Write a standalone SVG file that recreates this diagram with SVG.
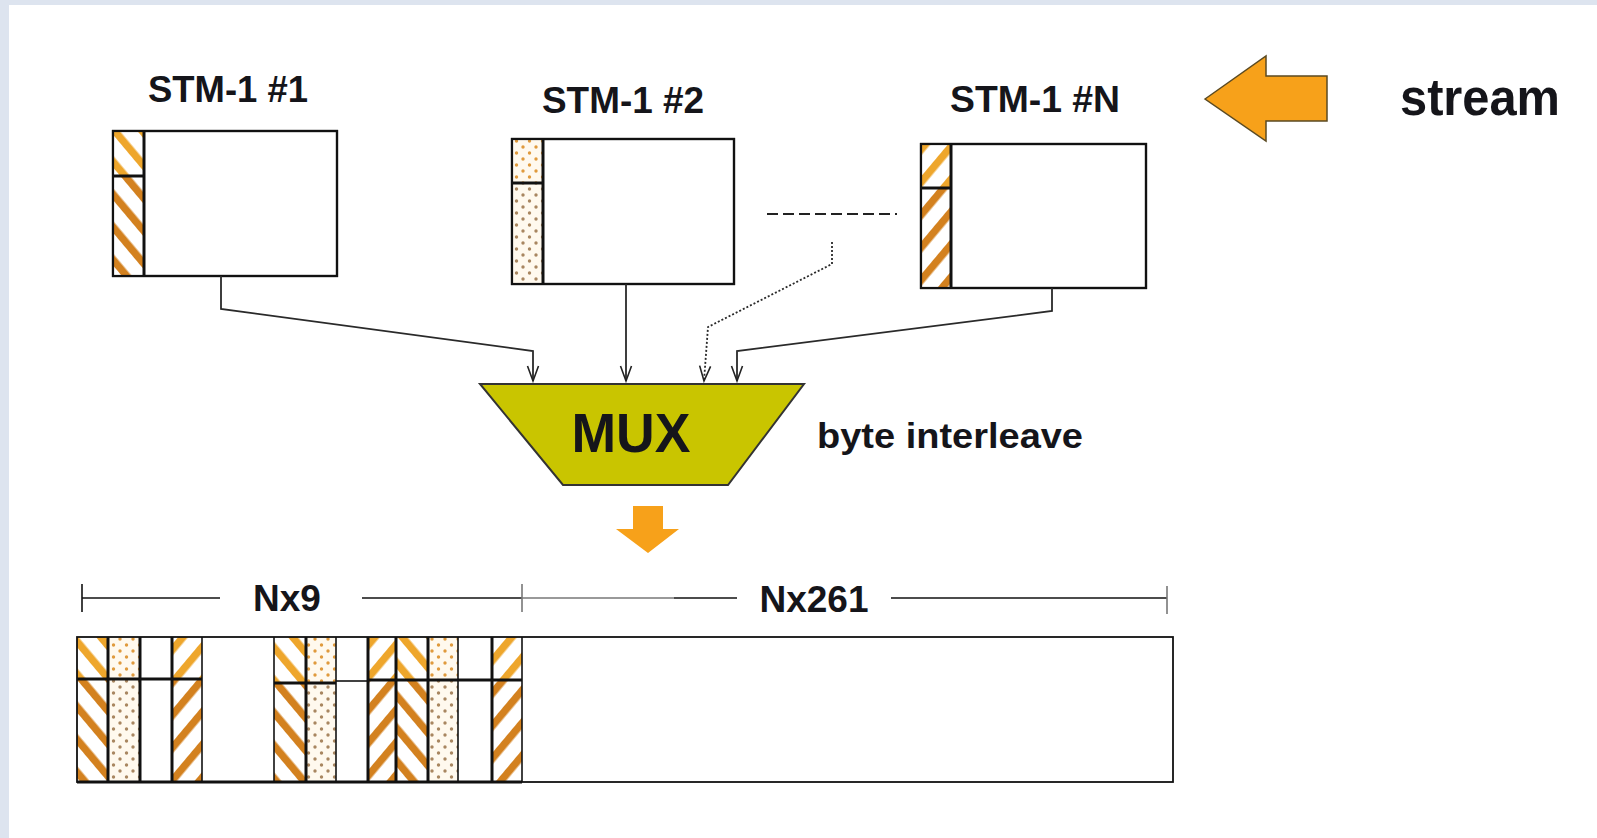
<svg xmlns="http://www.w3.org/2000/svg" width="1597" height="838" viewBox="0 0 1597 838">
  <style>
    .lbl { font-family: "Liberation Sans", Arial, sans-serif; font-weight: bold; fill: #15151a; }
    .box { fill: #fff; stroke: #111; stroke-width: 2.2; }
    .sep { stroke: #111; stroke-width: 3; fill: none; }
    .thin { stroke: #111; stroke-width: 1.6; fill: none; }
    .conn { stroke: #2a2a2a; stroke-width: 1.8; fill: none; marker-end: url(#arr); }
    .dim { stroke: #111; stroke-width: 1.6; fill: none; }
    .dimg { stroke: #777; stroke-width: 1.6; fill: none; }
  </style>
  <defs>
    <marker id="arr" markerUnits="userSpaceOnUse" markerWidth="20" markerHeight="14" refX="16" refY="6" orient="auto" overflow="visible">
      <path d="M1,0.5 L16,6 L1,11.5" fill="none" stroke="#222" stroke-width="1.6"/>
    </marker>
    <pattern id="bsTop" patternUnits="userSpaceOnUse" width="21" height="21" patternTransform="rotate(-40)">
      <rect width="21" height="21" fill="#fff"/><rect width="7.5" height="21" fill="#eea62c"/>
    </pattern>
    <pattern id="bsBot" patternUnits="userSpaceOnUse" width="21" height="21" patternTransform="rotate(-40)">
      <rect width="21" height="21" fill="#fff"/><rect width="7.5" height="21" fill="#d3811f"/>
    </pattern>
    <pattern id="fsTop" patternUnits="userSpaceOnUse" width="21" height="21" patternTransform="rotate(40)">
      <rect width="21" height="21" fill="#fff"/><rect width="7.5" height="21" fill="#eea62c"/>
    </pattern>
    <pattern id="fsBot" patternUnits="userSpaceOnUse" width="21" height="21" patternTransform="rotate(40)">
      <rect width="21" height="21" fill="#fff"/><rect width="7.5" height="21" fill="#d3811f"/>
    </pattern>
    <pattern id="dotTop" patternUnits="userSpaceOnUse" width="13" height="12">
      <rect width="13" height="12" fill="#fff9ee"/>
      <circle cx="3" cy="3" r="1.7" fill="#e09a3c"/><circle cx="9.5" cy="9" r="1.7" fill="#e09a3c"/>
    </pattern>
    <pattern id="dotBot" patternUnits="userSpaceOnUse" width="13" height="12">
      <rect width="13" height="12" fill="#fff9ee"/>
      <circle cx="3" cy="3" r="1.7" fill="#a88660"/><circle cx="9.5" cy="9" r="1.7" fill="#a88660"/>
    </pattern>
  </defs>

  <rect width="1597" height="838" fill="#dde4ef"/>
  <rect x="9" y="5" width="1588" height="833" fill="#fff"/>

  <g id="stm1">
    <text class="lbl" x="228" y="102" font-size="37" text-anchor="middle" textLength="160" lengthAdjust="spacingAndGlyphs">STM-1 #1</text>
    <rect class="box" x="113" y="131" width="224" height="145"/>
    <rect x="113" y="131" width="31" height="45" fill="url(#bsTop)"/>
    <rect x="113" y="176" width="31" height="100" fill="url(#bsBot)"/>
    <rect x="113" y="131" width="224" height="145" fill="none" stroke="#111" stroke-width="2.2"/>
    <line class="sep" x1="144" y1="131" x2="144" y2="276"/>
    <line class="sep" x1="113" y1="176" x2="144" y2="176"/>
  </g>

  <g id="stm2">
    <text class="lbl" x="623" y="113" font-size="37" text-anchor="middle" textLength="162" lengthAdjust="spacingAndGlyphs">STM-1 #2</text>
    <rect class="box" x="512" y="139" width="222" height="145"/>
    <rect x="512" y="139" width="31" height="44" fill="url(#dotTop)"/>
    <rect x="512" y="183" width="31" height="101" fill="url(#dotBot)"/>
    <rect x="512" y="139" width="222" height="145" fill="none" stroke="#111" stroke-width="2.2"/>
    <line class="sep" x1="543" y1="139" x2="543" y2="284"/>
    <line class="sep" x1="512" y1="183" x2="543" y2="183"/>
  </g>

  <g id="ellipsis">
    <line x1="767" y1="214" x2="897" y2="214" stroke="#222" stroke-width="2" stroke-dasharray="11,5"/>
  </g>

  <g id="stmN">
    <text class="lbl" x="1035" y="112" font-size="37" text-anchor="middle" textLength="170" lengthAdjust="spacingAndGlyphs">STM-1 #N</text>
    <rect class="box" x="921" y="144" width="225" height="144"/>
    <rect x="921" y="144" width="30" height="44" fill="url(#fsTop)"/>
    <rect x="921" y="188" width="30" height="100" fill="url(#fsBot)"/>
    <rect x="921" y="144" width="225" height="144" fill="none" stroke="#111" stroke-width="2.2"/>
    <line class="sep" x1="951" y1="144" x2="951" y2="288"/>
    <line class="sep" x1="921" y1="188" x2="951" y2="188"/>
  </g>

  <g id="stream">
    <polygon points="1205,99 1266,56 1266,76 1327,76 1327,121 1266,121 1266,141" fill="#f7a11a" stroke="#5b4a22" stroke-width="1.5"/>
    <text class="lbl" x="1480" y="115" font-size="52" text-anchor="middle" textLength="160" lengthAdjust="spacingAndGlyphs">stream</text>
  </g>

  <g id="connectors">
    <path class="conn" d="M221,276 V309 L533,351 V381"/>
    <path class="conn" d="M626,284 V381" stroke-width="1.5"/>
    <path class="conn" d="M832,242 V264 L708,327 L704,381" stroke-dasharray="2,2" stroke-width="1.6"/>
    <path class="conn" d="M1052,288 V311 L737,351 V381"/>
  </g>

  <g id="mux">
    <polygon points="480,384 804,384 728,485 563,485" fill="#c9c500" stroke="#333" stroke-width="2"/>
    <text class="lbl" x="631" y="452" font-size="56" text-anchor="middle" textLength="119" lengthAdjust="spacingAndGlyphs">MUX</text>
  </g>

  <g id="byte-interleave">
    <text class="lbl" x="817" y="448" font-size="35" textLength="266" lengthAdjust="spacingAndGlyphs">byte interleave</text>
  </g>

  <g id="down-arrow">
    <polygon points="633,506 663,506 663,529 679,529 648,553 616,529 633,529" fill="#f7a11a"/>
  </g>

  <g id="dimension">
    <line class="dim" x1="82" y1="584" x2="82" y2="612"/>
    <line class="dim" x1="82" y1="598" x2="220" y2="598"/>
    <text class="lbl" x="287" y="611" font-size="37" text-anchor="middle">Nx9</text>
    <line class="dim" x1="362" y1="598" x2="522" y2="598"/>
    <line class="dimg" x1="522" y1="584" x2="522" y2="612"/>
    <line class="dimg" x1="522" y1="598" x2="674" y2="598"/>
    <line class="dim" x1="674" y1="598" x2="737" y2="598"/>
    <text class="lbl" x="814" y="612" font-size="37" text-anchor="middle">Nx261</text>
    <line class="dim" x1="891" y1="598" x2="1167" y2="598"/>
    <line class="dimg" x1="1167" y1="586" x2="1167" y2="614"/>
  </g>

  <g id="frame">
    <rect x="77" y="637" width="1096" height="145" fill="#fff"/>
    <rect x="77" y="637" width="31" height="42" fill="url(#bsTop)"/>
    <rect x="77" y="679" width="31" height="103" fill="url(#bsBot)"/>
    <rect x="108" y="637" width="32" height="42" fill="url(#dotTop)"/>
    <rect x="108" y="679" width="32" height="103" fill="url(#dotBot)"/>
    <rect x="172" y="637" width="30" height="42" fill="url(#fsTop)"/>
    <rect x="172" y="679" width="30" height="103" fill="url(#fsBot)"/>
    <rect x="274" y="637" width="32" height="46" fill="url(#bsTop)"/>
    <rect x="274" y="683" width="32" height="99" fill="url(#bsBot)"/>
    <rect x="306" y="637" width="30" height="46" fill="url(#dotTop)"/>
    <rect x="306" y="683" width="30" height="99" fill="url(#dotBot)"/>
    <rect x="368" y="637" width="28" height="43" fill="url(#fsTop)"/>
    <rect x="368" y="680" width="28" height="102" fill="url(#fsBot)"/>
    <rect x="396" y="637" width="32" height="43" fill="url(#bsTop)"/>
    <rect x="396" y="680" width="32" height="102" fill="url(#bsBot)"/>
    <rect x="428" y="637" width="30" height="43" fill="url(#dotTop)"/>
    <rect x="428" y="680" width="30" height="102" fill="url(#dotBot)"/>
    <rect x="492" y="637" width="30" height="43" fill="url(#fsTop)"/>
    <rect x="492" y="680" width="30" height="102" fill="url(#fsBot)"/>
    <rect x="77" y="637" width="1096" height="145" fill="none" stroke="#111" stroke-width="1.8"/>
    <line class="sep" x1="77" y1="782" x2="522" y2="782"/>
    <line class="sep" x1="108" y1="637" x2="108" y2="782"/>
    <line class="sep" x1="140" y1="637" x2="140" y2="782"/>
    <line class="sep" x1="172" y1="637" x2="172" y2="782"/>
    <line class="thin" x1="202" y1="637" x2="202" y2="782"/>
    <line class="sep" x1="77" y1="679" x2="202" y2="679"/>
    <line class="thin" x1="274" y1="637" x2="274" y2="782"/>
    <line class="sep" x1="306" y1="637" x2="306" y2="782"/>
    <line class="thin" x1="336" y1="637" x2="336" y2="782"/>
    <line class="sep" x1="274" y1="683" x2="336" y2="683"/>
    <line class="thin" x1="336" y1="681" x2="368" y2="681"/>
    <line class="sep" x1="368" y1="637" x2="368" y2="782"/>
    <line class="sep" x1="396" y1="637" x2="396" y2="782"/>
    <line class="sep" x1="428" y1="637" x2="428" y2="782"/>
    <line class="thin" x1="458" y1="637" x2="458" y2="782"/>
    <line class="sep" x1="492" y1="637" x2="492" y2="782"/>
    <line class="thin" x1="522" y1="637" x2="522" y2="782"/>
    <line class="sep" x1="368" y1="680" x2="522" y2="680"/>
  </g>
</svg>
